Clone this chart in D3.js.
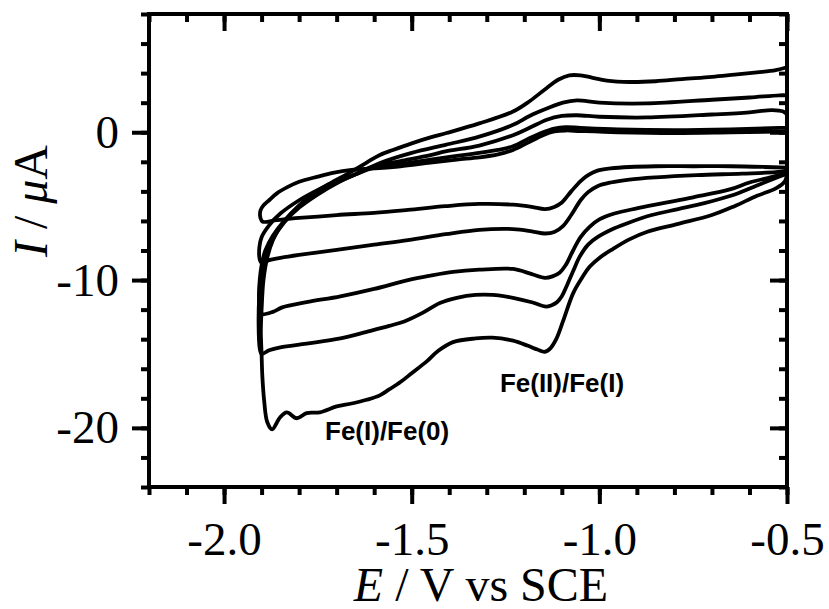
<!DOCTYPE html>
<html>
<head>
<meta charset="utf-8">
<script src="https://cdn.jsdelivr.net/npm/d3@7/dist/d3.min.js"></script>
<style>
  body { margin: 0; background: #fff; }
</style>
</head>
<body>
<svg id="mainsvg" width="829" height="609"></svg>
<script>
// CV scans, [E (V vs SCE), I (uA)]
// cathodic branch runs -0.5 -> -1.9 V, anodic branch back to -0.5 V
const scan1Cathodic = [[-0.50,-2.4],[-0.56,-2.35],[-0.65,-2.3],[-0.75,-2.3],[-0.85,-2.3],[-0.92,-2.35],[-0.97,-2.45],[-1.005,-2.6],[-1.03,-2.9],[-1.05,-3.3],[-1.075,-4.0],[-1.10,-4.75],[-1.12,-5.05],[-1.145,-5.2],[-1.18,-5.05],[-1.23,-4.9],[-1.32,-4.85],[-1.41,-5.0],[-1.51,-5.25],[-1.60,-5.45],[-1.70,-5.6],[-1.80,-5.8],[-1.86,-5.95],[-1.897,-6.05]];
const scan1Anodic = [[-1.903,-5.8],[-1.903,-5.3],[-1.895,-4.95],[-1.88,-4.6],[-1.86,-4.15],[-1.83,-3.7],[-1.80,-3.35],[-1.75,-3.0],[-1.71,-2.75],[-1.66,-2.55],[-1.60,-2.45],[-1.53,-2.3],[-1.45,-2.05],[-1.38,-1.85],[-1.32,-1.7],[-1.27,-1.5],[-1.23,-1.2],[-1.19,-0.7],[-1.15,-0.2],[-1.12,0.05],[-1.09,0.12],[-1.05,0.08],[-0.95,0.0],[-0.80,-0.05],[-0.65,0.0],[-0.52,0.05],[-0.50,0.05]];

const scan2Cathodic = [[-0.50,-2.6],[-0.53,-2.7],[-0.62,-2.8],[-0.74,-2.9],[-0.85,-3.05],[-0.92,-3.2],[-0.97,-3.4],[-1.005,-3.65],[-1.03,-4.05],[-1.05,-4.6],[-1.075,-5.6],[-1.097,-6.35],[-1.12,-6.75],[-1.145,-6.85],[-1.18,-6.7],[-1.23,-6.55],[-1.32,-6.6],[-1.41,-6.9],[-1.51,-7.3],[-1.60,-7.6],[-1.70,-7.95],[-1.80,-8.3],[-1.85,-8.5],[-1.88,-8.65],[-1.90,-8.85]];
const scan2Anodic = [[-1.905,-8.6],[-1.906,-7.8],[-1.90,-7.1],[-1.88,-6.3],[-1.85,-5.5],[-1.80,-4.6],[-1.75,-3.9],[-1.70,-3.3],[-1.65,-2.85],[-1.60,-2.4],[-1.53,-2.15],[-1.45,-1.85],[-1.38,-1.6],[-1.32,-1.4],[-1.27,-1.2],[-1.23,-0.95],[-1.19,-0.45],[-1.15,0.0],[-1.12,0.25],[-1.09,0.35],[-1.05,0.3],[-0.95,0.2],[-0.80,0.15],[-0.65,0.2],[-0.52,0.3],[-0.50,0.3]];

const scan3Cathodic = [[-0.50,-2.7],[-0.52,-2.9],[-0.60,-3.4],[-0.65,-3.85],[-0.75,-4.4],[-0.83,-4.8],[-0.90,-5.15],[-0.96,-5.5],[-1.0,-5.9],[-1.026,-6.4],[-1.05,-7.1],[-1.07,-8.0],[-1.09,-9.0],[-1.106,-9.5],[-1.125,-9.75],[-1.145,-9.85],[-1.18,-9.6],[-1.23,-9.25],[-1.32,-9.3],[-1.39,-9.45],[-1.45,-9.7],[-1.51,-10.0],[-1.60,-10.6],[-1.69,-11.1],[-1.78,-11.5],[-1.845,-11.85],[-1.87,-12.15],[-1.90,-12.3]];
const scan3Anodic = [[-1.905,-12.0],[-1.907,-11.0],[-1.905,-10.0],[-1.90,-9.0],[-1.89,-8.0],[-1.87,-7.0],[-1.84,-6.0],[-1.80,-5.0],[-1.75,-4.1],[-1.70,-3.4],[-1.65,-2.85],[-1.60,-2.3],[-1.53,-1.95],[-1.45,-1.55],[-1.41,-1.3],[-1.32,-0.9],[-1.23,-0.2],[-1.186,0.3],[-1.14,0.85],[-1.10,1.1],[-1.06,1.15],[-1.0,1.05],[-0.874,1.0],[-0.70,1.2],[-0.60,1.35],[-0.54,1.5],[-0.51,1.4],[-0.50,1.2]];

const scan4Cathodic = [[-0.50,-2.8],[-0.52,-3.0],[-0.58,-3.6],[-0.65,-4.3],[-0.72,-4.8],[-0.79,-5.2],[-0.86,-5.6],[-0.92,-6.1],[-0.96,-6.5],[-1.005,-7.1],[-1.03,-7.6],[-1.052,-8.4],[-1.07,-9.4],[-1.087,-10.4],[-1.10,-11.1],[-1.113,-11.5],[-1.127,-11.7],[-1.142,-11.8],[-1.18,-11.5],[-1.23,-11.2],[-1.285,-11.0],[-1.33,-11.0],[-1.38,-11.2],[-1.425,-11.55],[-1.47,-12.2],[-1.52,-12.8],[-1.56,-13.1],[-1.62,-13.5],[-1.69,-13.95],[-1.78,-14.3],[-1.85,-14.55],[-1.88,-14.75],[-1.90,-15.0]];
const scan4Anodic = [[-1.905,-14.6],[-1.908,-13.0],[-1.906,-11.0],[-1.90,-9.5],[-1.89,-8.3],[-1.87,-7.2],[-1.84,-6.1],[-1.80,-5.1],[-1.75,-4.2],[-1.70,-3.45],[-1.65,-2.85],[-1.586,-2.1],[-1.50,-1.4],[-1.41,-0.85],[-1.32,-0.3],[-1.23,0.5],[-1.186,1.1],[-1.14,1.6],[-1.097,2.0],[-1.06,2.15],[-1.0,2.0],[-0.874,1.95],[-0.70,2.2],[-0.60,2.35],[-0.52,2.5],[-0.50,2.5]];

const scan5Cathodic = [[-0.50,-2.5],[-0.505,-3.3],[-0.53,-3.8],[-0.58,-4.3],[-0.64,-5.0],[-0.70,-5.6],[-0.79,-6.2],[-0.874,-6.75],[-0.92,-7.25],[-0.964,-7.9],[-1.0,-8.5],[-1.026,-9.1],[-1.05,-10.0],[-1.07,-10.9],[-1.097,-12.8],[-1.115,-14.0],[-1.13,-14.6],[-1.145,-14.85],[-1.165,-14.7],[-1.19,-14.45],[-1.23,-14.1],[-1.285,-13.9],[-1.33,-13.95],[-1.39,-14.2],[-1.43,-14.8],[-1.46,-15.5],[-1.50,-16.3],[-1.53,-16.9],[-1.56,-17.4],[-1.585,-17.8],[-1.62,-18.1],[-1.66,-18.35],[-1.70,-18.55],[-1.745,-18.95],[-1.78,-19.0],[-1.806,-19.35],[-1.833,-18.95],[-1.851,-19.3],[-1.872,-20.1],[-1.885,-19.6],[-1.893,-18.2],[-1.898,-16.5]];
const scan5Anodic = [[-1.90,-15.0],[-1.902,-13.5],[-1.90,-12.0],[-1.895,-10.0],[-1.885,-8.5],[-1.87,-7.3],[-1.845,-6.2],[-1.81,-5.2],[-1.77,-4.3],[-1.72,-3.5],[-1.67,-2.8],[-1.62,-2.05],[-1.586,-1.55],[-1.55,-1.2],[-1.50,-0.75],[-1.45,-0.35],[-1.407,-0.05],[-1.32,0.6],[-1.23,1.4],[-1.186,2.1],[-1.14,3.0],[-1.11,3.55],[-1.08,3.85],[-1.05,3.85],[-1.02,3.7],[-0.98,3.5],[-0.92,3.4],[-0.85,3.45],[-0.78,3.6],[-0.70,3.75],[-0.64,3.9],[-0.58,4.05],[-0.53,4.2],[-0.50,4.4]];

const xMajorTicks = [-2.0, -1.5, -1.0, -0.5];
const xMajorLabels = ['-2.0', '-1.5', '-1.0', '-0.5'];
const yMajorTicks = [0, -10, -20];
const yMajorLabels = ['0', '-10', '-20'];
const peakNames = ['Fe(II)/Fe(I)', 'Fe(I)/Fe(0)'];

const svg = d3.select('#mainsvg');
const width = +svg.attr('width');
const height = +svg.attr('height');
const margin = { top: 14, right: 42, bottom: 122, left: 149 };
const innerWidth = width - margin.left - margin.right;
const innerHeight = height - margin.top - margin.bottom;
const g = svg.append('g')
  .attr('transform', `translate(${margin.left}, ${margin.top})`);

const serif = '"Liberation Serif", "Times New Roman", serif';

const x = d3.scaleLinear().domain([-2.2, -0.5]).range([0, innerWidth]);
const y = d3.scaleLinear().domain([-24, 8]).range([innerHeight, 0]);

const scans = [
  scan1Cathodic.concat(scan1Anodic),
  scan2Cathodic.concat(scan2Anodic),
  scan3Cathodic.concat(scan3Anodic),
  scan4Cathodic.concat(scan4Anodic),
  scan5Cathodic.concat(scan5Anodic)
];

const line = d3.line()
  .x(d => x(d[0]))
  .y(d => y(d[1]))
  .curve(d3.curveCatmullRom.alpha(0.5));

g.selectAll('path.cv').data(scans).join('path')
  .attr('class', 'cv')
  .attr('fill', 'none')
  .attr('stroke', '#000')
  .attr('stroke-width', 3.8)
  .attr('stroke-linejoin', 'round')
  .attr('d', line);

// ticks: minor every 0.1 V / 2 uA, major with labels on bottom & left
const style = sel => {
  sel.select('.domain').remove();
  sel.selectAll('.tick line').attr('stroke', '#000').attr('stroke-width', 4);
  sel.selectAll('.tick text')
    .attr('font-family', serif)
    .attr('font-size', 47)
    .attr('fill', '#000');
};

const addAxis = (axis, tx, ty) => g.append('g')
  .attr('transform', `translate(${tx}, ${ty})`)
  .call(axis)
  .call(style);

// bottom
addAxis(d3.axisBottom(x).ticks(17).tickSize(8).tickSizeOuter(0).tickFormat(''), 0, innerHeight);
const xb = addAxis(d3.axisBottom(x).tickValues(xMajorTicks).tickSize(17).tickSizeOuter(0)
  .tickFormat((d, i) => xMajorLabels[i]), 0, innerHeight);
xb.selectAll('.tick text').attr('y', 68).attr('dy', null);
// top (ticks inward)
addAxis(d3.axisBottom(x).ticks(17).tickSize(8).tickSizeOuter(0).tickFormat(''), 0, 0);
addAxis(d3.axisBottom(x).tickValues(xMajorTicks).tickSize(17).tickSizeOuter(0).tickFormat(''), 0, 0);
// left
addAxis(d3.axisLeft(y).ticks(16).tickSize(8).tickSizeOuter(0).tickFormat(''), 0, 0);
const yl = addAxis(d3.axisLeft(y).tickValues(yMajorTicks).tickSize(17).tickSizeOuter(0)
  .tickFormat((d, i) => yMajorLabels[i]), 0, 0);
yl.selectAll('.tick text').attr('x', -30).attr('dy', '0.32em');
// right (ticks inward)
addAxis(d3.axisLeft(y).ticks(16).tickSize(8).tickSizeOuter(0).tickFormat(''), innerWidth, 0);
addAxis(d3.axisLeft(y).tickValues(yMajorTicks).tickSize(17).tickSizeOuter(0).tickFormat(''), innerWidth, 0);

g.append('rect')
  .attr('width', innerWidth)
  .attr('height', innerHeight)
  .attr('fill', 'none')
  .attr('stroke', '#000')
  .attr('stroke-width', 4);

// peak annotations
g.append('text')
  .attr('x', x(-1.265)).attr('y', y(-17.55))
  .attr('font-family', '"Liberation Sans", Arial, sans-serif')
  .attr('font-weight', 'bold').attr('font-size', 26)
  .text(peakNames[0]);
g.append('text')
  .attr('x', x(-1.731)).attr('y', y(-20.85))
  .attr('font-family', '"Liberation Sans", Arial, sans-serif')
  .attr('font-weight', 'bold').attr('font-size', 26)
  .text(peakNames[1]);

// axis titles
const xt = svg.append('text')
  .attr('x', 481).attr('y', 601)
  .attr('text-anchor', 'middle')
  .attr('font-family', serif).attr('font-size', 48);
xt.append('tspan').attr('font-style', 'italic').text('E');
xt.append('tspan').text(' / V vs SCE');

const yt = svg.append('text')
  .attr('transform', 'translate(47, 201) rotate(-90)')
  .attr('text-anchor', 'middle')
  .attr('font-family', serif).attr('font-size', 48);
yt.append('tspan').attr('font-style', 'italic').text('I');
yt.append('tspan').text(' / ');
yt.append('tspan').attr('font-style', 'italic').text('\u03bc');
yt.append('tspan').text('A');
</script>
</body>
</html>
